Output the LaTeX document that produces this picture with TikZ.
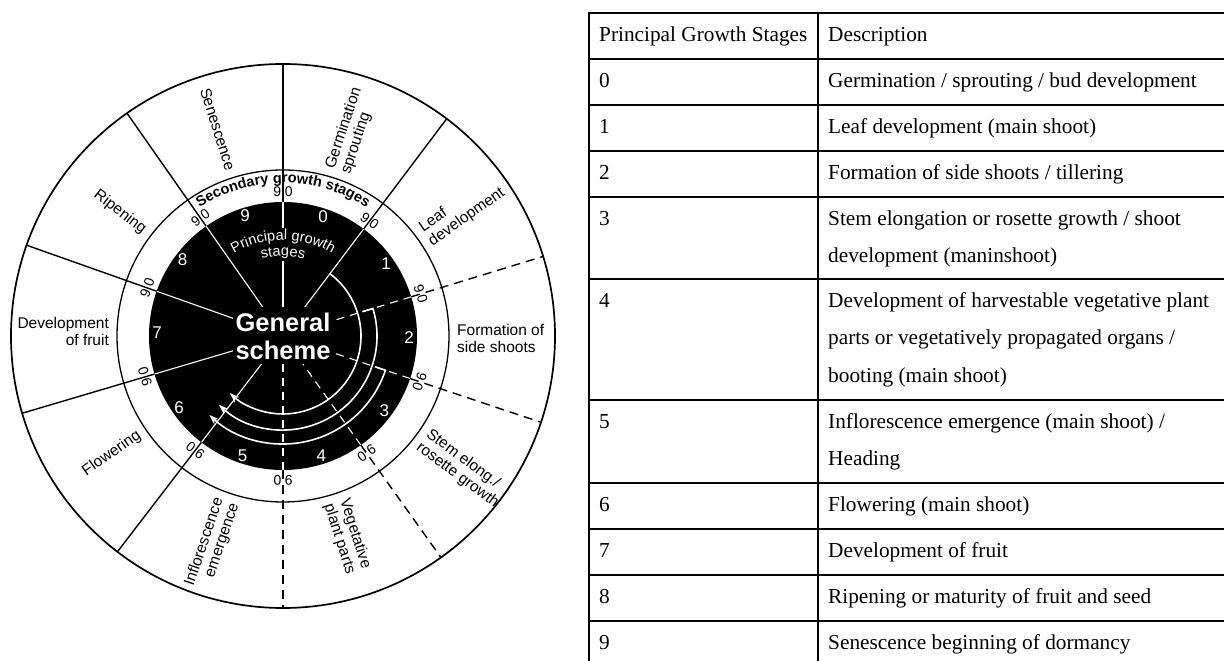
\documentclass[tikz,border=0pt]{standalone}
\usepackage{fontspec}
\setmainfont{Liberation Serif}
\setsansfont{Liberation Sans}
\usetikzlibrary{arrows.meta,decorations.text}

% fonts used along the curved ring captions
\newcommand\SecRingFont{\fontsize{14.5}{15}\selectfont\sffamily\bfseries}
\newcommand\PrinRingFont{\color{white}\fontsize{14.5}{15}\selectfont\sffamily}

\begin{document}
\begin{tikzpicture}[x=1pt,y=1pt,
  ringlabel/.style={font=\fontsize{15.5}{16.5}\selectfont\sffamily, inner sep=0pt},
  cutnum/.style={font=\fontsize{14}{14}\selectfont\sffamily, inner sep=0pt},
  stagenum/.style={font=\fontsize{17}{17}\selectfont\sffamily, text=white, inner sep=0pt},
  blackray/.style={line width=1.4pt},
  blackdash/.style={line width=1.4pt, dash pattern=on 9pt off 6pt},
  whiteray/.style={white, line width=1.1pt},
  whitedash/.style={white, line width=1.1pt, dash pattern=on 8pt off 6pt},
  stagearc/.style={white, line width=1.6pt, -{Stealth[length=10pt,width=7pt]}},
  tabline/.style={line width=2.2pt},
  cell/.style={anchor=base west, inner sep=0pt, font=\fontsize{21.3}{25}\selectfont}
]
\useasboundingbox (0,0) rectangle (1224,661);

% ---------------- general scheme wheel ----------------
\coordinate (C) at (283,325);
\begin{scope}[shift={(C)}]
  % principal stage disk
  \fill[black] (0,0) circle[radius=134];
  % the vertical ray is broken by the "Principal growth stages" caption
  \draw[whiteray] (0,0) -- (90:75);
  \draw[whiteray] (90:108) -- (90:134);
  \foreach \a in {53,-127.5,-163.5,160.5,125}
    \draw[whiteray] (0,0) -- (\a:134);
  \foreach \a in {17,-18.5,-54.5,-90}
    \draw[whitedash] (0,0) -- (\a:134);

  % centre caption, knocking out the rays behind it
  \node[fill=black, text=white, font=\fontsize{25.5}{28}\selectfont\sffamily\bfseries,
        minimum width=100pt, minimum height=57pt, inner sep=0pt, align=center]
        (gs) at (0,0) {General\\scheme};

  % parallel stage arrows
  \draw[stagearc] (53:78) arc[start angle=53, end angle=-133, radius=78];
  \draw[stagearc] (17:83) -- (17:94) arc[start angle=17, end angle=-133, radius=94];
  \draw[stagearc] (-18.5:97) -- (-18.5:108) arc[start angle=-18.5, end angle=-133, radius=108];

  % principal stage numbers
  \foreach \d/\a in {0/71.5,1/35,2/-0.75,3/-36.5,4/-72.25,5/-108.75,6/-145.5,7/178.5,8/142.75,9/107.5}
    \node[stagenum] (p\d) at (\a:126) {\d};

  \path[decorate, decoration={text along path, text align=center,
        text={|\PrinRingFont|Principal growth}}]
        (150:96) arc[start angle=150, end angle=30, radius=96];
  \path[decorate, decoration={text along path, text align=center,
        text={|\PrinRingFont|stages}}]
        (150:80) arc[start angle=150, end angle=30, radius=80];

  % rays through the secondary ring and the outer ring
  \foreach \a in {90,53,-127.5,-163.5,160.5,125}
    \draw[blackray] (\a:134) -- (\a:272);
  \foreach \a in {17,-18.5,-54.5,-90}
    \draw[blackdash] (\a:134) -- (\a:272);

  \draw[line width=1.3pt] (0,0) circle[radius=166];
  \draw[line width=1.7pt] (0,0) circle[radius=272];

  % secondary stage ring
  \path[decorate, decoration={text along path, text align=center,
        text={|\SecRingFont|Secondary growth stages}}]
        (150:153) arc[start angle=150, end angle=30, radius=153];
  \foreach \a [count=\i] in {90,53,17,-18.5,-54.5,-90,-127.5,-163.5,160.5,125}
    \node[cutnum, rotate=\a-90] (b\i) at (\a:144) {9\hspace{3.5pt}0};

  % outer ring captions
  \node[ringlabel, anchor=west, rotate=71.5, align=left] (l0) at (71.5:174) {Germination\\sprouting};
  \node[ringlabel, anchor=west, rotate=35, align=left] (l1) at (35:174) {Leaf\\development};
  \node[ringlabel, anchor=west, align=left] (l2) at (-0.8:174) {Formation of\\side shoots};
  \node[ringlabel, anchor=west, rotate=-36.5, align=left] (l3) at (-36.5:174) {Stem elong./\\rosette growth};
  \node[ringlabel, anchor=west, rotate=-72.25, align=left] (l4) at (-72.25:174) {Vegetative\\plant parts};
  \node[ringlabel, anchor=east, rotate=71.25, align=right] (l5) at (-108.75:174) {Inflorescence\\emergence};
  \node[ringlabel, anchor=east, rotate=34.5, align=right] (l6) at (-145.5:174) {Flowering};
  \node[ringlabel, anchor=east, align=right] (l7) at (178.5:174) {Development\\of fruit};
  \node[ringlabel, anchor=east, rotate=-37.25, align=right] (l8) at (142.75:174) {Ripening};
  \node[ringlabel, anchor=east, rotate=-72.5, align=right] (l9) at (107.5:174) {Senescence};
\end{scope}

% ---------------- stage table ----------------
\draw[tabline] (1224,648) -- (589,648) -- (589,0);
\draw[tabline] (818,648) -- (818,0);
\foreach \y in {602,556,510,464,382,261,178,132,86,40}
  \draw[tabline] (589,\y) -- (1224,\y);

\node[cell] (hs) at (599,619.5) {Principal Growth Stages};
\node[cell] (hd) at (828,619.5) {Description};
\foreach \i/\y in {0/573.5,1/527.5,2/481.5,3/435.5,4/353.5,5/232.5,6/149.5,7/103.5,8/57.5,9/11.5}
  \node[cell] (num\i) at (599,\y) {\i};

\node[cell] (d0) at (828,573.5) {Germination / sprouting / bud development};
\node[cell] (d1) at (828,527.5) {Leaf development (main shoot)};
\node[cell] (d2) at (828,481.5) {Formation of side shoots / tillering};
\node[cell] (d3a) at (828,435.5) {Stem elongation or rosette growth / shoot};
\node[cell] (d3b) at (828,398) {development (maninshoot)};
\node[cell] (d4a) at (828,353.5) {Development of harvestable vegetative plant};
\node[cell] (d4b) at (828,316) {parts or vegetatively propagated organs /};
\node[cell] (d4c) at (828,278.5) {booting (main shoot)};
\node[cell] (d5a) at (828,232.5) {Inflorescence emergence (main shoot) /};
\node[cell] (d5b) at (828,195) {Heading};
\node[cell] (d6) at (828,149.5) {Flowering (main shoot)};
\node[cell] (d7) at (828,103.5) {Development of fruit};
\node[cell] (d8) at (828,57.5) {Ripening or maturity of fruit and seed};
\node[cell] (d9) at (828,11.5) {Senescence beginning of dormancy};
\end{tikzpicture}
\end{document}
